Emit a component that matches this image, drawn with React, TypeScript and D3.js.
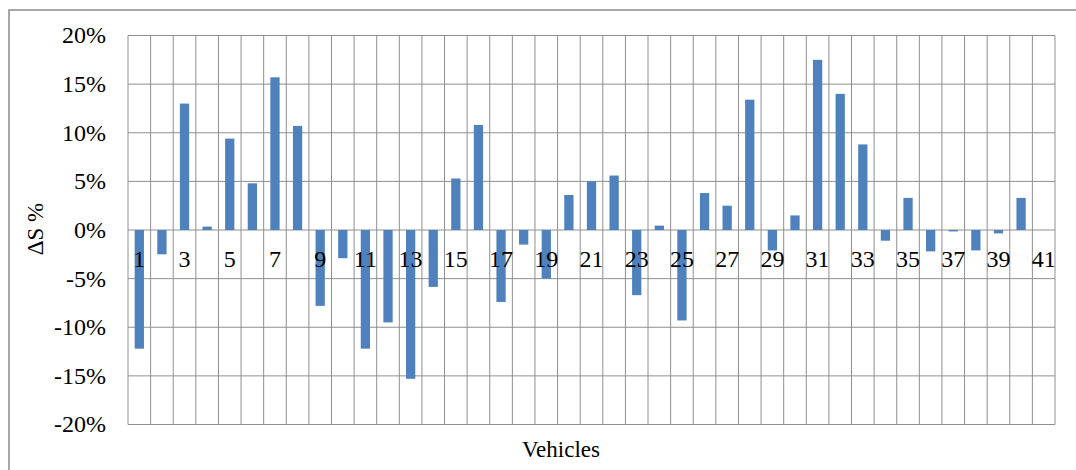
import React from "react";
import * as d3 from "d3";

const vehicles: number[] = d3.range(1, 42);
const deltaS: (number | null)[] = [
  -12.2, -2.5, 13.0, 0.35, 9.4, 4.8, 15.7, 10.7, -7.8, -2.9,
  -12.2, -9.5, -15.3, -5.85, 5.3, 10.8, -7.4, -1.5, -5.0, 3.6,
  5.0, 5.6, -6.7, 0.45, -9.3, 3.8, 2.5, 13.4, -2.1, 1.5,
  17.5, 14.0, 8.8, -1.1, 3.3, -2.2, -0.15, -2.1, -0.35, 3.3,
  null,
];
const yTicks: number[] = [-20, -15, -10, -5, 0, 5, 10, 15, 20];
const xLabelShown: number[] = vehicles.filter((v) => v % 2 === 1);

const W = 1076;
const H = 470;
const plot = { left: 128, right: 1055, top: 35.5, bottom: 424.5 };

export default function App() {
  const x = d3
    .scaleBand<number>()
    .domain(vehicles)
    .range([plot.left, plot.right])
    .paddingInner(0)
    .paddingOuter(0);
  const y = d3.scaleLinear().domain([-20, 20]).range([plot.bottom, plot.top]);
  const bw = x.bandwidth() * 0.41;
  const grid = "#8f8f8f";
  const font = "'Liberation Serif', 'Times New Roman', serif";

  return (
    <svg
      width={W}
      height={H}
      style={{ position: "absolute", left: 0, top: 0, background: "#fff" }}
    >
      <rect x={0} y={0} width={W} height={H} fill="#fff" />
      <rect
        x={9}
        y={10}
        width={1200}
        height={600}
        fill="none"
        stroke="#8a8a8a"
        strokeWidth={1.5}
      />
      {/* horizontal gridlines */}
      {yTicks.map((t) => (
        <line
          key={"h" + t}
          x1={plot.left}
          x2={plot.right}
          y1={y(t)}
          y2={y(t)}
          stroke={grid}
          strokeWidth={1}
        />
      ))}
      {/* vertical gridlines at category boundaries */}
      {[...vehicles, vehicles.length + 1].map((v, i) => {
        const xx = i < vehicles.length ? (x(v) as number) : plot.right;
        return (
          <line
            key={"v" + i}
            x1={xx}
            x2={xx}
            y1={plot.top}
            y2={plot.bottom}
            stroke={grid}
            strokeWidth={1}
          />
        );
      })}
      {/* bars */}
      {vehicles.map((v, i) => {
        const val = deltaS[i];
        if (val === null) return null;
        const cx = (x(v) as number) + x.bandwidth() / 2;
        const y0 = y(0);
        const y1 = y(val);
        return (
          <rect
            key={"b" + v}
            x={cx - bw / 2}
            y={Math.min(y0, y1)}
            width={bw}
            height={Math.abs(y1 - y0)}
            fill="#4f81bd"
          />
        );
      })}
      {/* y tick labels */}
      {yTicks.map((t) => (
        <text
          key={"yl" + t}
          x={106}
          y={y(t)}
          dy="0.33em"
          textAnchor="end"
          fontFamily={font}
          fontSize={24}
          fill="#000"
        >
          {t + "%"}
        </text>
      ))}
      {/* category labels */}
      {xLabelShown.map((v) => (
        <text
          key={"xl" + v}
          x={(x(v) as number) + x.bandwidth() / 2}
          y={266.5}
          textAnchor="middle"
          fontFamily={font}
          fontSize={24}
          fill="#000"
        >
          {String(v)}
        </text>
      ))}
      {/* axis titles */}
      <text
        x={561}
        y={457}
        textAnchor="middle"
        fontFamily={font}
        fontSize={23}
        fill="#000"
      >
        Vehicles
      </text>
      <text
        transform={`translate(43,229) rotate(-90)`}
        textAnchor="middle"
        fontFamily={font}
        fontSize={23}
        fill="#000"
      >
        ΔS %
      </text>
    </svg>
  );
}
